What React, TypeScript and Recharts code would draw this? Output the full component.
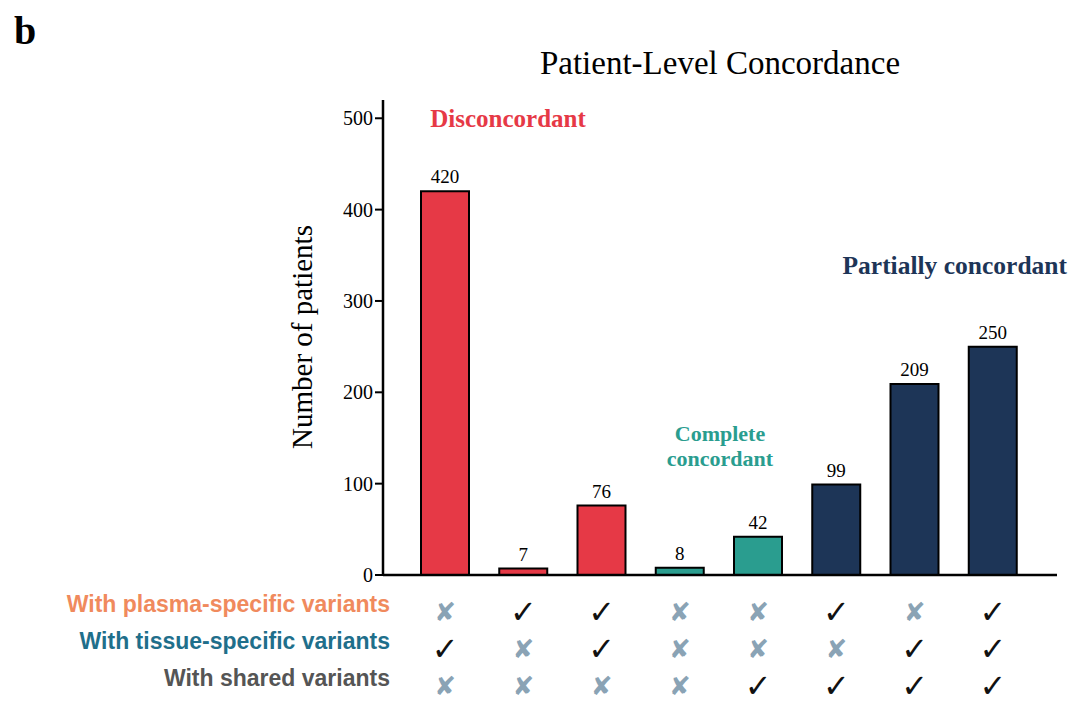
import { Bar, BarChart, Cell, LabelList, XAxis, YAxis } from 'recharts';

const categories = ['c1', 'c2', 'c3', 'c4', 'c5', 'c6', 'c7', 'c8'];
const patients = [420, 7, 76, 8, 42, 99, 209, 250];
const groups = ['dis', 'dis', 'dis', 'comp', 'comp', 'part', 'part', 'part'];
const plasma = [0, 1, 1, 0, 0, 1, 0, 1];
const tissue = [1, 0, 1, 0, 0, 0, 1, 1];
const shared = [0, 0, 0, 0, 1, 1, 1, 1];
const yTicks = [0, 100, 200, 300, 400, 500];

const groupColors: Record<string, string> = {
  dis: '#E63946',
  comp: '#2A9D8F',
  part: '#1D3557',
};

const rows = [
  { label: 'With plasma-specific variants', color: '#F08A5D', values: plasma },
  { label: 'With tissue-specific variants', color: '#1F6F8B', values: tissue },
  { label: 'With shared variants', color: '#555555', values: shared },
];

const data = categories.map((name, i) => ({
  name,
  value: patients[i],
  group: groups[i],
}));

const serif = '"Liberation Serif", "DejaVu Serif", serif';
const sans = '"Liberation Sans", Arial, sans-serif';

function MarkTick(props: any) {
  const { x, y, payload } = props;
  const i = categories.indexOf(payload.value);
  return (
    <g>
      {rows.map((r, k) => {
        const on = r.values[i] === 1;
        return (
          <text
            key={k}
            x={x}
            y={y + 29 + k * 37}
            textAnchor="middle"
            dominantBaseline="central"
            fontSize={on ? 32 : 26}
            fontWeight="bold"
            fontFamily="DejaVu Sans"
            fill={on ? '#111' : '#8AA3B5'}
          >
            {on ? '✓' : '✘'}
          </text>
        );
      })}
    </g>
  );
}

export default function App() {
  return (
    <div style={{ position: 'absolute', left: 0, top: 0, width: 1080, height: 706, background: '#fff' }}>
      <BarChart
        width={1080}
        height={706}
        data={data}
        margin={{ top: 100, bottom: 107, left: 323, right: 23 }}
      >
        <XAxis
          dataKey="name"
          axisLine={{ stroke: '#000', strokeWidth: 2.5 }}
          tickLine={false}
          padding={{ left: 23, right: 25 }}
          interval={0}
          tick={<MarkTick />}
          height={24}
        />
        <YAxis
          domain={[0, 520]}
          ticks={yTicks}
          width={60}
          axisLine={{ stroke: '#000', strokeWidth: 2.5 }}
          tickLine={{ stroke: '#000', strokeWidth: 2 }}
          tickSize={8}
          tick={{ fill: '#000', fontSize: 20, fontFamily: serif }}
        />
        <Bar dataKey="value" isAnimationActive={false} stroke="#000" strokeWidth={2} barSize={48}>
          {data.map((d, i) => (
            <Cell key={i} fill={groupColors[d.group]} />
          ))}
          <LabelList dataKey="value" position="top" offset={8} fill="#000" fontSize={19} fontFamily={serif} />
        </Bar>
      </BarChart>
      <svg width={1080} height={706} style={{ position: 'absolute', left: 0, top: 0, pointerEvents: 'none' }}>
        <text x={14} y={44} fontSize={40} fontWeight="bold" fontFamily={serif}>b</text>
        <text x={720} y={74} textAnchor="middle" fontSize={33} fontFamily={serif}>Patient-Level Concordance</text>
        <text x={312} y={337} textAnchor="middle" fontSize={29} fontFamily={serif} transform="rotate(-90 312 337)">
          Number of patients
        </text>
        <text x={508} y={127} textAnchor="middle" fontSize={25} fontWeight="bold" fontFamily={serif} fill="#E63946">Disconcordant</text>
        <text x={720} y={441} textAnchor="middle" fontSize={22} fontWeight="bold" fontFamily={serif} fill="#2A9D8F">Complete</text>
        <text x={720} y={466} textAnchor="middle" fontSize={22} fontWeight="bold" fontFamily={serif} fill="#2A9D8F">concordant</text>
        <text x={1067} y={274} textAnchor="end" fontSize={25.5} fontWeight="bold" fontFamily={serif} fill="#1D3557">Partially concordant</text>
        {rows.map((r, k) => (
          <text key={k} x={390} y={612 + k * 37} textAnchor="end" fontSize={23} fontWeight="bold" fontFamily={sans} fill={r.color}>
            {r.label}
          </text>
        ))}
      </svg>
    </div>
  );
}
